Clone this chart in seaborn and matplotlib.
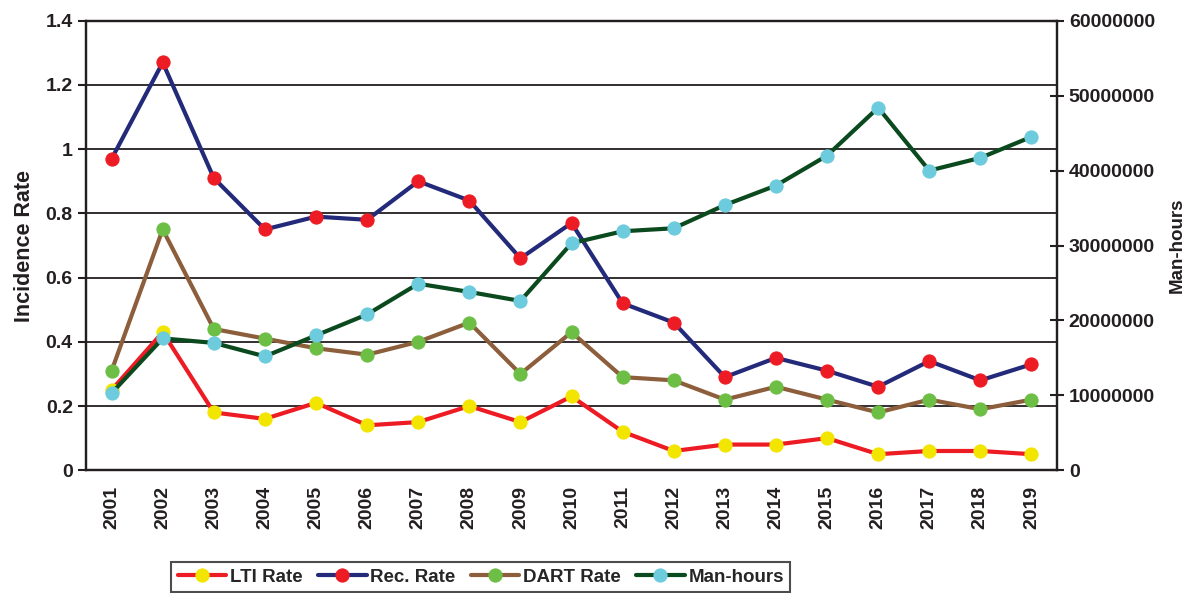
import matplotlib
matplotlib.use("Agg")
import matplotlib.pyplot as plt
import seaborn as sns
import pandas as pd
from matplotlib.ticker import MultipleLocator, FuncFormatter

years = [str(y) for y in range(2001, 2020)]
lti_rate = [0.25, 0.43, 0.18, 0.16, 0.21, 0.14, 0.15, 0.20, 0.15, 0.23,
            0.12, 0.06, 0.08, 0.08, 0.10, 0.05, 0.06, 0.06, 0.05]
rec_rate = [0.97, 1.27, 0.91, 0.75, 0.79, 0.78, 0.90, 0.84, 0.66, 0.77,
            0.52, 0.46, 0.29, 0.35, 0.31, 0.26, 0.34, 0.28, 0.33]
dart_rate = [0.31, 0.75, 0.44, 0.41, 0.38, 0.36, 0.40, 0.46, 0.30, 0.43,
             0.29, 0.28, 0.22, 0.26, 0.22, 0.18, 0.22, 0.19, 0.22]
man_hours = [10300000, 17600000, 17000000, 15200000, 18000000, 20800000,
             24900000, 23800000, 22600000, 30300000, 31900000, 32300000,
             35400000, 38000000, 42000000, 48400000, 40000000, 41700000,
             44500000]

df = pd.DataFrame({"year": years, "LTI Rate": lti_rate, "Rec. Rate": rec_rate,
                   "DART Rate": dart_rate, "Man-hours": man_hours})

sns.set_style("white")
plt.rcParams["font.family"] = ["Liberation Sans", "DejaVu Sans"]
plt.rcParams["font.weight"] = "bold"

fig, ax = plt.subplots(figsize=(11.87, 5.93), dpi=100)
fig.subplots_adjust(left=0.0725, right=0.8905, top=0.965, bottom=0.207)

styles = [
    ("LTI Rate", "#ED1C24", "#F2E600"),
    ("Rec. Rate", "#232A7A", "#ED1C24"),
    ("DART Rate", "#8C5E3C", "#6DBE45"),
]
for col, lc, mc in styles:
    sns.lineplot(data=df, x="year", y=col, ax=ax, color=lc, lw=3,
                 marker="o", markersize=9.5, markerfacecolor=mc,
                 markeredgecolor=mc, label=col, legend=False, zorder=3)

ax2 = ax.twinx()
sns.lineplot(data=df, x="year", y="Man-hours", ax=ax2, color="#0B4A1E", lw=3,
             marker="o", markersize=9.5, markerfacecolor="#6CCBDD",
             markeredgecolor="#6CCBDD", label="Man-hours", legend=False, zorder=3)

ax.set_xlim(-0.5, len(years) - 0.5)
ax.set_ylim(0, 1.4)
ax.yaxis.set_major_locator(MultipleLocator(0.2))
ax.yaxis.set_major_formatter(FuncFormatter(lambda v, p: f"{v:g}"))
ax2.set_ylim(0, 60000000)
ax2.yaxis.set_major_locator(MultipleLocator(10000000))
ax2.yaxis.set_major_formatter(FuncFormatter(lambda v, p: f"{int(v)}"))

ax.grid(axis="y", color="#231F20", lw=1.3)
ax.set_axisbelow(True)
for a in (ax, ax2):
    for s in a.spines.values():
        s.set_color("#231F20")
        s.set_linewidth(1.6)

ax.tick_params(axis="x", direction="out", length=8, width=1.5, color="#231F20",
               labelsize=14, labelrotation=90)
ax.tick_params(axis="y", direction="out", length=6, width=1.5, color="#231F20",
               labelsize=14)
ax2.tick_params(axis="y", direction="inout", length=10, width=1.5, color="#231F20",
                labelsize=14)
for lab in ax.get_xticklabels() + ax.get_yticklabels() + ax2.get_yticklabels():
    lab.set_fontweight("bold")
    lab.set_color("#231F20")

ax.set_xlabel("")
ax.set_ylabel("Incidence Rate", fontsize=15.5, fontweight="bold", color="#231F20",
              labelpad=8)
ax2.set_ylabel("Man-hours", fontsize=13.5, fontweight="bold", color="#231F20",
               labelpad=10)

h1, l1 = ax.get_legend_handles_labels()
h2, l2 = ax2.get_legend_handles_labels()
leg = fig.legend(h1 + h2, l1 + l2, loc="upper center", bbox_to_anchor=(0.405, 0.052),
                 borderaxespad=0, ncol=4, frameon=True, fancybox=False,
                 edgecolor="#231F20", fontsize=13.5, handlelength=2.6,
                 handletextpad=0.2, columnspacing=0.8, borderpad=0.35)
leg.get_frame().set_linewidth(1.5)
for t in leg.get_texts():
    t.set_fontweight("bold")

fig.savefig("out.png", dpi=100)
